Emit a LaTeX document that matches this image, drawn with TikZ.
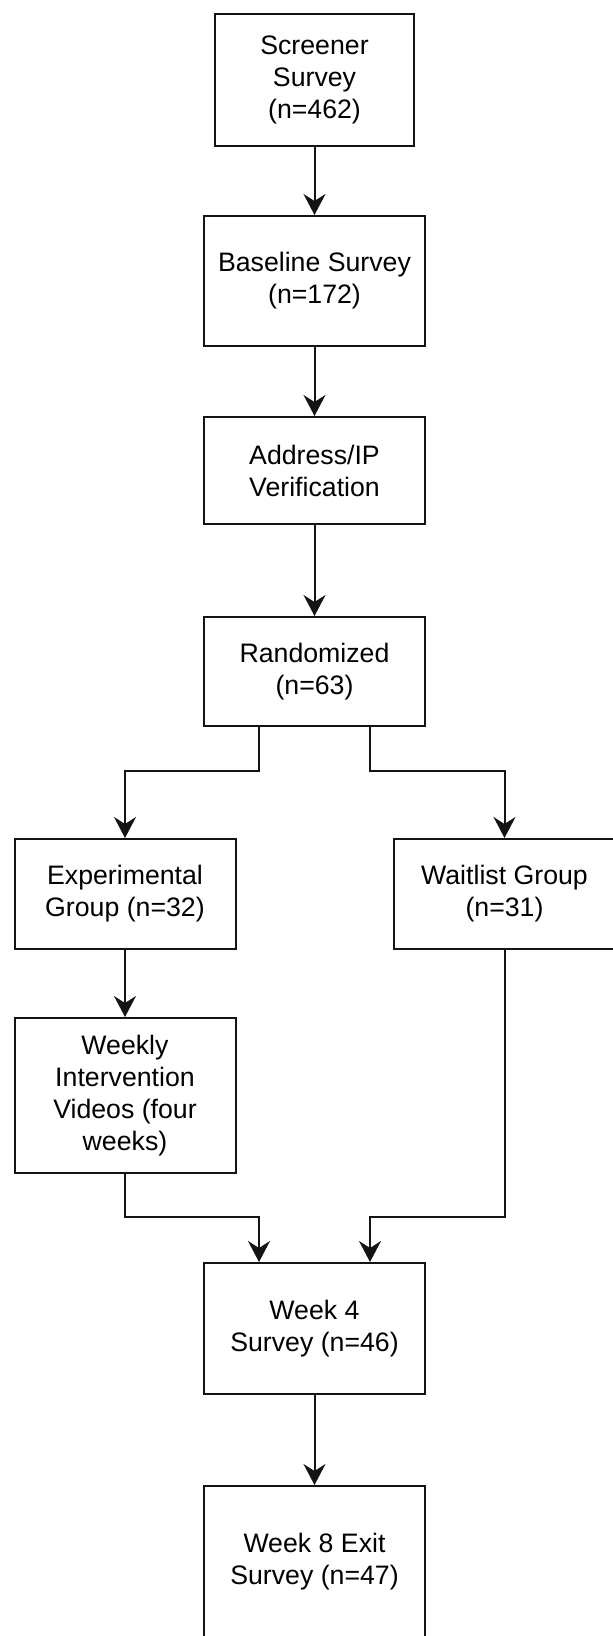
\documentclass[tikz,border=0pt]{standalone}
\usepackage{fontspec}
\setmainfont{Liberation Sans}
\usepackage{tikz}
\usetikzlibrary{positioning,arrows.meta}
\definecolor{Cedge}{RGB}{20,20,20}
\tikzset{
  stagebox/.style={draw=Cedge, line width=1pt, fill=white, align=center,
        minimum width=110.5pt, inner sep=2pt,
        font=\fontsize{13.35pt}{16pt}\selectfont},
  flowarrow/.style={-{Stealth[length=10.5pt,width=11pt,inset=3.5pt]},
        line width=1pt, draw=Cedge}
}

\begin{document}
\begin{tikzpicture}
  \useasboundingbox (0,0) rectangle (306pt,-818pt);
  \node[stagebox, minimum width=99.5pt, minimum height=66pt, anchor=north]
    (screener) at (157.25pt,-6.5pt) {Screener\\Survey\\(n=462)};
  \node[stagebox, minimum height=65pt, below=34pt of screener]
    (baseline) {Baseline Survey\\(n=172)};
  \node[stagebox, minimum height=53.5pt, below=34.5pt of baseline]
    (address) {Address/IP\\Verification};
  \node[stagebox, minimum height=54.5pt, below=45.5pt of address]
    (rand) {Randomized\\(n=63)};
  \node[stagebox, minimum height=55pt, below=55.5pt of rand, xshift=-94.75pt]
    (exp) {Experimental\\Group (n=32)};
  \node[stagebox, minimum height=55pt, below=55.5pt of rand, xshift=95pt]
    (wait) {Waitlist Group\\(n=31)};
  \node[stagebox, minimum height=77.5pt, below=33.5pt of exp]
    (weekly) {Weekly\\Intervention\\Videos (four\\weeks)};
  \node[stagebox, minimum height=65.5pt, below=44pt of weekly, xshift=94.75pt]
    (week4) {Week 4\\Survey (n=46)};
  \node[stagebox, minimum height=76pt, below=45pt of week4]
    (week8) {Week 8 Exit\\Survey (n=47)};

  \draw[flowarrow] (screener.south) -- (baseline.north);
  \draw[flowarrow] (baseline.south) -- (address.north);
  \draw[flowarrow] (address.south) -- (rand.north);
  \draw[flowarrow] ([xshift=-27.75pt]rand.south)
    |- ([yshift=33.5pt]exp.north) -- (exp.north);
  \draw[flowarrow] ([xshift=27.75pt]rand.south)
    |- ([yshift=33.5pt]wait.north) -- (wait.north);
  \draw[flowarrow] (exp.south) -- (weekly.north);
  \draw[flowarrow] (weekly.south)
    |- ([xshift=-27.75pt,yshift=22.5pt]week4.north) -- ([xshift=-27.75pt]week4.north);
  \draw[flowarrow] (wait.south)
    |- ([xshift=27.75pt,yshift=22.5pt]week4.north) -- ([xshift=27.75pt]week4.north);
  \draw[flowarrow] (week4.south) -- (week8.north);
\end{tikzpicture}
\end{document}
